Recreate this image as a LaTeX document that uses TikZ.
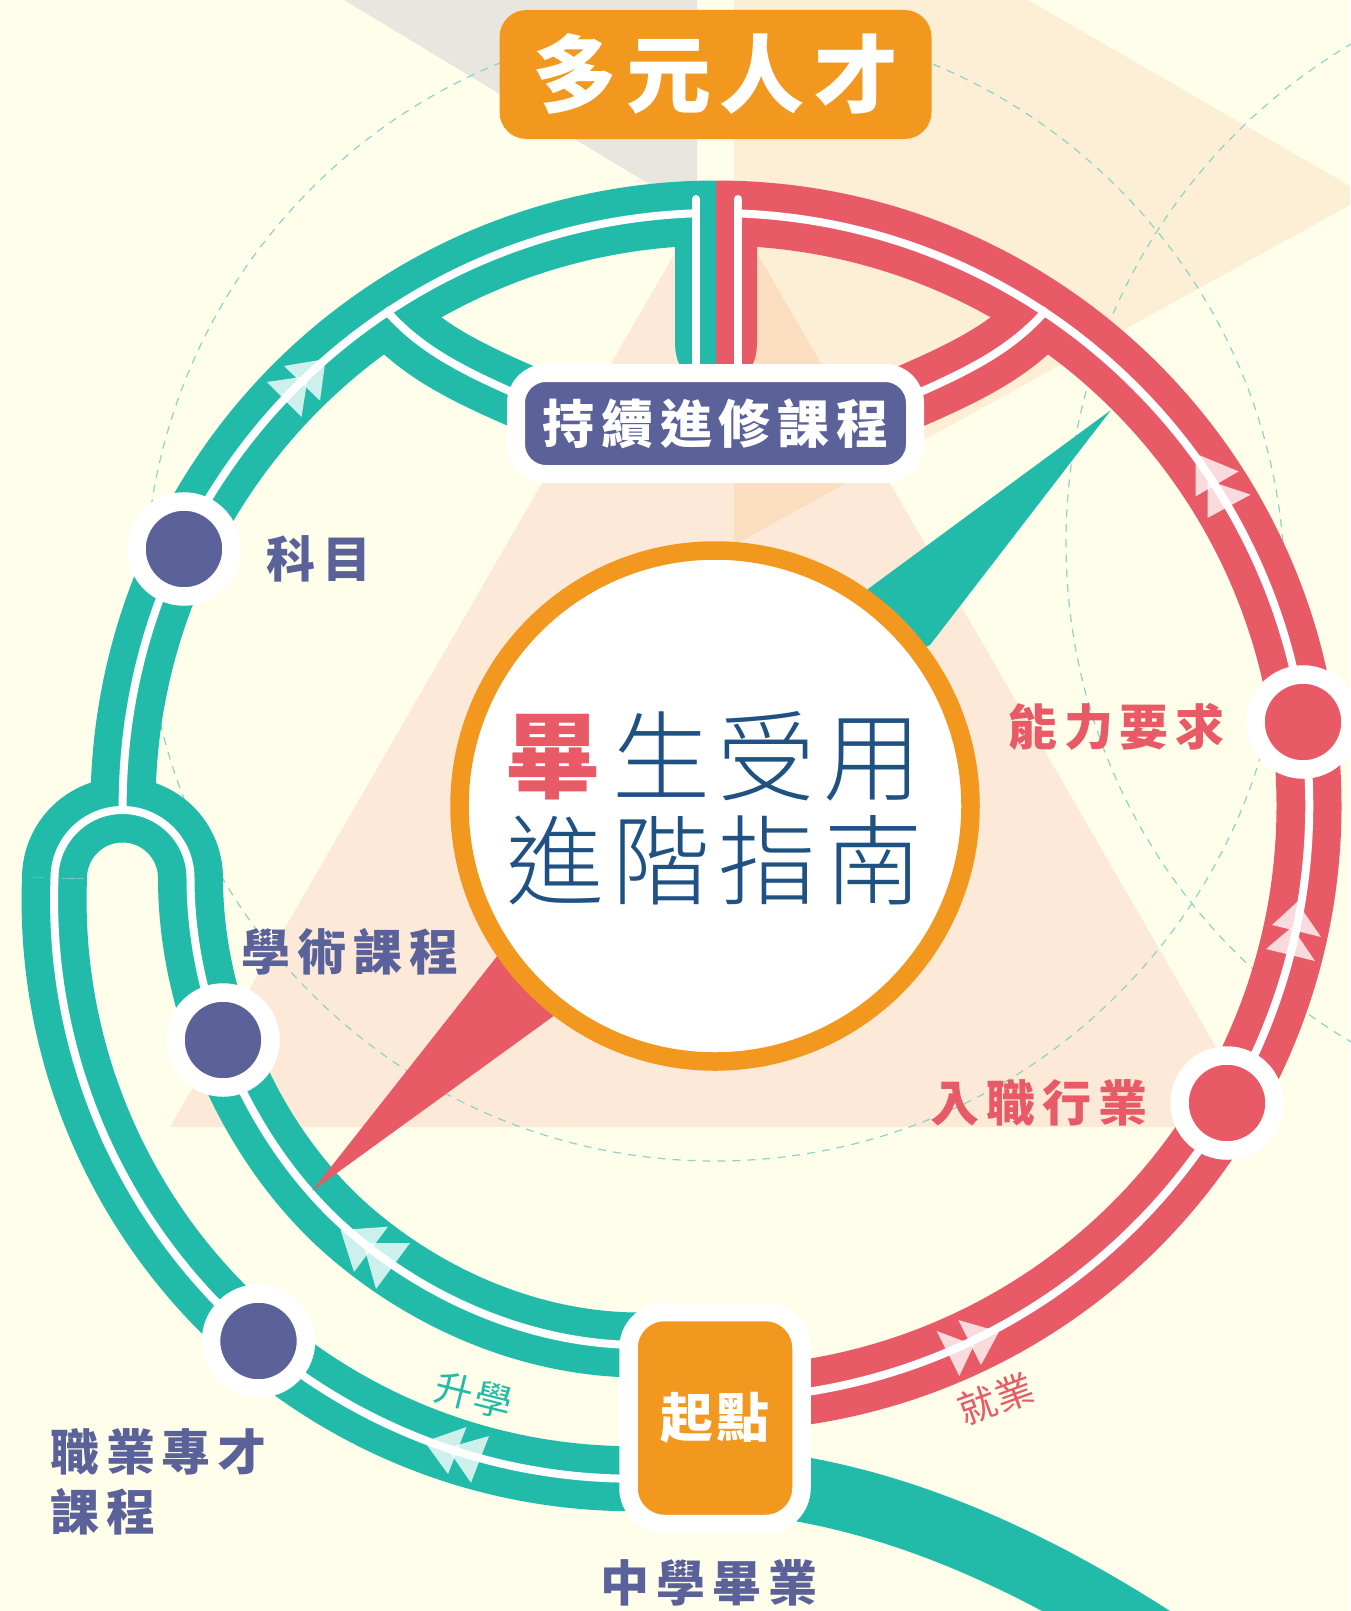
\documentclass[tikz,border=0pt]{standalone}
\usepackage{fontspec}
\setmainfont{Noto Sans CJK TC}[BoldFont=* Bold]
\newfontfamily\cjkbold{Noto Sans CJK TC Bold}
\newfontfamily\cjklight{Noto Sans CJK TC Light}
\newfontfamily\cjkblack{Noto Sans CJK TC Black}
\definecolor{bgc}{HTML}{FFFEEB}
\definecolor{teal2}{HTML}{22BBAA}
\definecolor{red2}{HTML}{E85A66}
\definecolor{purp}{HTML}{5B6199}
\definecolor{orng}{HTML}{F3981F}
\definecolor{peach}{HTML}{FCE9D7}
\definecolor{tan2}{HTML}{FDEFD5}
\definecolor{over}{HTML}{FBDDC0}
\definecolor{grey2}{HTML}{E9E6DF}
\definecolor{dash2}{HTML}{8FD3C6}
\definecolor{navy}{HTML}{1F5183}
\newcommand{\spaced}[1]{\addfontfeature{LetterSpace=#1}}
\tikzset{
  tband/.style={draw=teal2,line width=65pt,line join=round},
  rband/.style={draw=red2,line width=65pt},
  wline/.style={draw=white,line width=8pt,line join=round},
  guide/.style={draw=dash2,line width=1.2pt,dash pattern=on 8pt off 7pt},
  dart/.style={fill=white,fill opacity=.78},
  stopdot/.style={circle,draw=white,line width=18.5pt,minimum size=95pt,inner sep=0pt},
  lab/.style={font=\cjkblack\fontsize{49}{49}\selectfont\spaced{14}},
}
\begin{document}
\begin{tikzpicture}[x=1pt,y=1pt,yscale=-1]
\useasboundingbox (0,0) rectangle (1350,1611);
\fill[bgc] (0,0) rectangle (1350,1611);
% background wedges
\fill[grey2] (344,0) -- (697,0) -- (697,200) -- (659,190) -- cycle;
\fill[tan2] (734,0) -- (1028,0) -- (1350,186) -- (1350,205) -- (734,545) -- cycle;
\fill[peach] (716,182) -- (1262,1127) -- (170,1127) -- cycle;
\begin{scope}
\clip (716,182) -- (1262,1127) -- (170,1127) -- cycle;
\fill[over] (734,0) -- (1028,0) -- (1350,186) -- (1350,205) -- (734,545) -- cycle;
\end{scope}
% guide circles
\draw[guide] (715,591) circle[radius=570pt];
\draw[guide] (1645,543) circle[radius=579pt];
% teal bands
\draw[tband] (716,213) arc[start angle=270,end angle=179,radius=593pt];
\draw[tband] (54.5,878) arc[start angle=180,end angle=360,radius=68pt]
   .. controls (190.5,1008) and (252,1147) .. (350,1232)
   .. controls (430,1301) and (534,1345) .. (640,1345) -- (700,1347);
\draw[tband] (54.5,878) arc[start angle=182.2,end angle=88,radius=578.5pt];
\draw[tband] (700,1479) .. controls (850,1482) and (1000,1540) .. (1155,1640);
\draw[tband] (385,309) .. controls (420,350) and (465,372) .. (530,400);
\fill[teal2] (675,190) -- (675,342) .. controls (675,355) and (678,365) .. (685,372) -- (716.5,372) -- (716.5,190) -- cycle;
\fill[teal2] (690,181) rectangle (716,240);
% red bands
\draw[rband] (716,213) arc[start angle=270,end angle=455,radius=593pt];
\draw[rband] (1047,309) .. controls (1012,350) and (967,372) .. (902,400);
\fill[red2] (757,190) -- (757,342) .. controls (757,355) and (754,365) .. (747,372) -- (716,372) -- (716,190) -- cycle;
\fill[red2] (716,181) rectangle (742,240);
% white centre lines
\draw[wline] (696,213.3) arc[start angle=268.1,end angle=180,radius=593pt];
\draw[wline] (54.5,878) arc[start angle=180,end angle=360,radius=68pt]
   .. controls (190.5,1008) and (252,1147) .. (350,1232)
   .. controls (430,1301) and (534,1345) .. (640,1345) -- (700,1347);
\draw[wline] (54.5,878) arc[start angle=182.2,end angle=88,radius=578.5pt];
\draw[wline] (738,213.4) arc[start angle=272.1,end angle=455,radius=593pt];
\draw[wline] (385,309) .. controls (420,350) and (465,372) .. (530,400);
\draw[wline] (1047,309) .. controls (1012,350) and (967,372) .. (902,400);
\draw[wline,line cap=round] (696,199) -- (696,380);
\draw[wline,line cap=round] (738,199) -- (738,380);
% direction darts
\fill[dart] (1297,902) -- (1272,925) -- (1321,937) -- cycle;
\fill[dart] (1292,927) -- (1266,949) -- (1315,961) -- cycle;
\fill[dart] (1195.5,453.6) -- (1238.6,471.4) -- (1195.5,496.4) -- cycle;
\fill[dart] (1207.6,480.4) -- (1250.7,494.6) -- (1207.6,517.9) -- cycle;
\fill[dart] (325.6,359) -- (284,366) -- (320,400.7) -- cycle;
\fill[dart] (308,376) -- (267,382) -- (301.5,417) -- cycle;
\fill[dart] (340.6,1230) -- (388,1226.7) -- (354,1272) -- cycle;
\fill[dart] (363,1243) -- (410,1243) -- (376,1289) -- cycle;
\fill[dart] (424.5,1441.7) -- (466.5,1427) -- (448,1474) -- cycle;
\fill[dart] (447,1448) -- (489,1436) -- (471,1482.7) -- cycle;
\fill[dart] (958.3,1320) -- (999,1331.7) -- (981,1365) -- cycle;
\fill[dart] (936.7,1331) -- (974,1345) -- (959.3,1376) -- cycle;
% compass needles
\fill[teal2] (1111,410) -- (868,589) -- (800,700) -- (930,645) -- cycle;
\fill[red2] (312,1191) -- (498,955) -- (620,900) -- (555,1015) -- cycle;
% central disc
\node[circle,fill=white,draw=orng,line width=18.5pt,minimum size=511pt,inner sep=0pt] (hub) at (715,806) {};
\node[inner sep=0pt,text=red2,font=\cjkblack\fontsize{95}{95}\selectfont] (bi) at (552.5,757) {畢};
\node[inner sep=0pt,text=navy,font=\cjklight\fontsize{98}{98}\selectfont\spaced{8}] (l1) at (767,756) {生受用};
\node[inner sep=0pt,text=navy,font=\cjklight\fontsize{98}{98}\selectfont\spaced{8}] (l2) at (714.5,860) {進階指南};
% stops
\node[stopdot,fill=purp] (s1) at (184,549) {};
\node[stopdot,fill=purp] (s2) at (223,1040) {};
\node[stopdot,fill=purp] (s3) at (258.5,1341) {};
\node[stopdot,fill=red2] (s4) at (1303,722) {};
\node[stopdot,fill=red2] (s5) at (1227,1103) {};
% boxes
\node[fill=orng,rounded corners=27pt,minimum width=432pt,minimum height=129pt,inner sep=0pt,
  text=white,font=\cjkblack\fontsize{85}{85}\selectfont\spaced{10}] (title) at (715.5,74.5) {多元人才};
\node[fill=purp,draw=white,line width=18pt,rounded corners=30pt,minimum width=399pt,minimum height=101pt,inner sep=0pt,
  text=white,font=\cjkblack\fontsize{52}{52}\selectfont\spaced{13}] (cont) at (715.5,423.5) {持續進修課程};
\node[fill=orng,draw=white,line width=18.5pt,rounded corners=36pt,minimum width=173pt,minimum height=212pt,inner sep=0pt,
  text=white,font=\cjkblack\fontsize{53}{53}\selectfont\spaced{6}] (start) at (715,1418) {起點};
% labels
\node[lab,text=purp,inner sep=0pt] (t1) at (319,559) {科目};
\node[lab,text=purp,inner sep=0pt] (t2) at (350,952) {學術課程};
\node[lab,text=red2,inner sep=0pt] (t3) at (1116.5,727) {能力要求};
\node[lab,text=red2,inner sep=0pt] (t4) at (1039,1103) {入職行業};
\node[lab,text=purp,inner sep=0pt,anchor=west] (t5) at (50,1452) {職業專才};
\node[lab,text=purp,inner sep=0pt,anchor=west] (t6) at (50,1512) {課程};
\node[lab,text=purp,inner sep=0pt] (t7) at (709,1583) {中學畢業};
\node[inner sep=0pt,text=teal2,rotate=-14,font=\fontsize{38}{38}\selectfont\spaced{6}] (t8) at (474,1395) {升學};
\node[inner sep=0pt,text=red2,rotate=20,font=\fontsize{38}{38}\selectfont\spaced{6}] (t9) at (996,1399) {就業};
\end{tikzpicture}
\end{document}
